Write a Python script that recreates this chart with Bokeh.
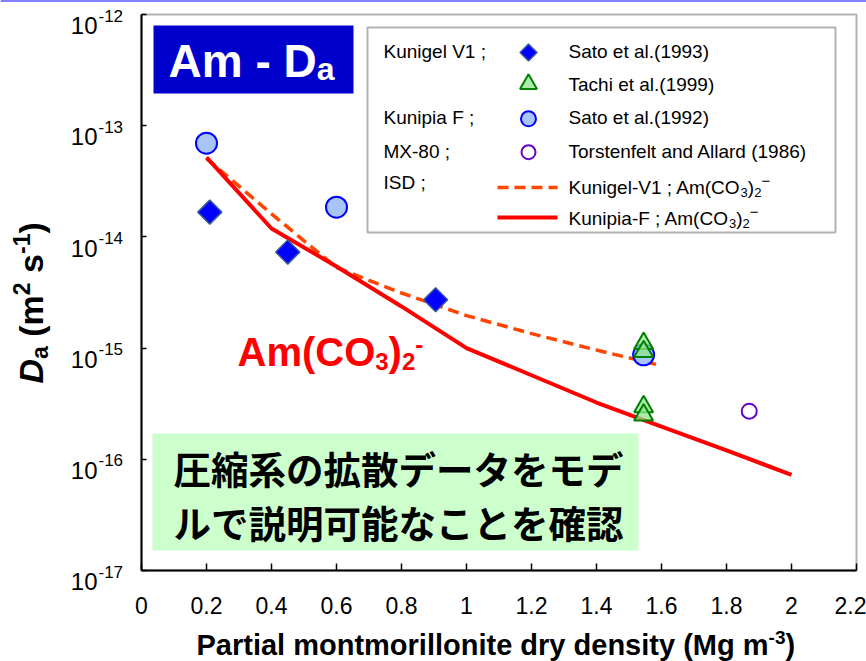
import numpy as np
from bokeh.plotting import figure
from bokeh.models import FixedTicker, Label, BoxAnnotation, CustomJSTickFormatter, Span
from bokeh.embed import file_html
from bokeh.resources import INLINE

# ---------------- data ----------------
x_ticks = [0, 0.2, 0.4, 0.6, 0.8, 1.0, 1.2, 1.4, 1.6, 1.8, 2.0, 2.2]
y_ticks = [1e-17, 1e-16, 1e-15, 1e-14, 1e-13, 1e-12]

# Kunigel V1 ; Sato et al.(1993)
sato93_x = [0.21, 0.45, 0.905]
sato93_y = [1.67e-14, 7.3e-15, 2.72e-15]
# Kunigel V1 ; Tachi et al.(1999)
tachi_x = [1.545, 1.545, 1.545, 1.545]
tachi_y = [1.10e-15, 9.3e-16, 2.97e-16, 2.50e-16]
# Kunipia F ; Sato et al.(1992)
sato92_x = [0.2, 0.6, 1.545]
sato92_y = [6.96e-14, 1.85e-14, 8.7e-16]
# MX-80 ; Torstenfelt and Allard (1986)
mx80_x = [1.87]
mx80_y = [2.71e-16]
# ISD model, Kunigel-V1 ; Am(CO3)2-
kv1_x = [0.2, 0.4, 0.6, 0.8, 1.0, 1.2, 1.4, 1.6]
kv1_y = [5.07e-14, 1.61e-14, 5.3e-15, 3.13e-15, 1.96e-15, 1.35e-15, 9.6e-16, 6.95e-16]
# ISD model, Kunipia-F ; Am(CO3)2-
kf_x = [0.2, 0.4, 0.6, 0.8, 1.0, 1.2, 1.4, 1.6, 1.8, 2.0]
kf_y = [5.18e-14, 1.19e-14, 5.42e-15, 2.37e-15, 1.0e-15, 5.7e-16, 3.24e-16, 1.97e-16, 1.2e-16, 7.26e-17]

legend_groups = ["Kunigel V1 ;", "", "Kunipia F ;", "MX-80 ;", "ISD ;"]
legend_labels = ["Sato et al.(1993)", "Tachi et al.(1999)", "Sato et al.(1992)",
                 "Torstenfelt and Allard (1986)"]

# ---------------- layout helpers ----------------
W, H = 866, 661
FL, FT, FW, FH = 141, 14, 715, 556      # plot area in page pixels
X0, X1 = 0.0, 2.2
E_TOP, E_BOT = -12, -17
FONT = "Liberation Sans"
CJK = "Noto Sans CJK JP"
MID = 0.35          # em distance from baseline to text middle


def dx(ix):
    return X0 + (ix - FL) / FW * (X1 - X0)


def dy(iy):
    return 10 ** (E_TOP - (iy - FT) / FH * (E_TOP - E_BOT))


REG = {' ': .278, '(': .333, ')': .333, '-': .333, '.': .278, ';': .278, 'A': .667,
       'C': .722, 'D': .722, 'F': .611, 'K': .667, 'M': .833, 'O': .778, 'V': .667,
       'a': .556, 'e': .556, 'g': .556, 'i': .222, 'l': .222, 'm': .833, 'n': .556,
       'p': .556, 'u': .556, '−': .584}
BLD = {' ': .278, '(': .333, ')': .333, '-': .333, 'A': .722, 'C': .722, 'D': .722,
       'M': .833, 'O': .778, 'P': .667, 'a': .556, 'd': .611, 'e': .556, 'g': .611,
       'i': .278, 'l': .278, 'm': .889, 'n': .611, 'o': .611, 'r': .389, 's': .556,
       't': .333, 'y': .556}


def tw(s, size, bold=False):
    t = BLD if bold else REG
    return sum(t.get(c, .556) for c in s) * size


def style(bold, italic):
    if bold and italic:
        return "bold italic"
    return "bold" if bold else ("italic" if italic else "normal")


# the frame covers the whole canvas; the axes are pinned to the plot-area edges
p = figure(width=W, height=H, x_range=(dx(0), dx(W)), y_range=(dy(H), dy(0)),
           y_axis_type="log", output_backend="svg", toolbar_location=None,
           min_border=0, background_fill_color="white", border_fill_color="white")
p.outline_line_color = None


def lab(ix, iy, text, size, color="black", bold=False, italic=False, align="left",
        rotated=False, font=FONT, yv=None, yoff=0, mid=MID):
    """ix, iy: start / baseline position in page pixels."""
    if rotated:
        x, y, angle = dx(ix - mid * size), dy(iy), np.pi / 2
    else:
        x, angle = dx(ix), 0.0
        y = dy(iy - mid * size) if yv is None else yv
        if yv is not None:
            yoff = yoff + mid * size
    p.add_layout(Label(x=x, y=y, y_offset=yoff, angle=angle,
                       text=text, text_font=font, text_font_size=f"{size}px",
                       text_font_style=style(bold, italic), text_color=color,
                       text_align=align, text_baseline="middle"))


def run(ix, iy, parts, color="black", rotated=False):
    for text, size, off, bold, italic in parts:
        lead = len(text) - len(text.lstrip())
        adv0 = tw(text[:lead], size, bold)
        if rotated:
            lab(ix + off, iy - adv0, text.strip(), size, color=color, bold=bold,
                italic=italic, rotated=True)
            iy -= tw(text, size, bold)
        else:
            lab(ix + adv0, iy + off, text.strip(), size, color=color, bold=bold, italic=italic)
            ix += tw(text, size, bold)


# slide rule at the top edge
p.add_layout(Span(location=dy(0), dimension="width", line_color="#0000FF", line_width=2))

# ---------------- axes ----------------
p.xgrid.visible = False
p.ygrid.visible = False

p.xaxis.fixed_location = 10 ** E_BOT
p.yaxis.fixed_location = X0
p.xaxis.bounds = (X0, X1)
p.yaxis.bounds = (10 ** E_BOT, 10 ** E_TOP)
p.xaxis.ticker = FixedTicker(ticks=x_ticks)
p.xaxis.formatter = CustomJSTickFormatter(code="return String(Math.round(tick*10)/10);")
p.yaxis.ticker = FixedTicker(ticks=y_ticks)
p.yaxis.formatter = CustomJSTickFormatter(code="return '';")
for ax in (p.xaxis, p.yaxis):
    ax.axis_line_width = 2
    ax.axis_line_color = "black"
    ax.major_tick_line_color = "black"
    ax.major_tick_line_width = 1.5
    ax.major_tick_out = 0
    ax.minor_tick_line_color = None
p.xaxis.major_tick_in = 7
p.yaxis.major_tick_in = 5
p.xaxis.major_label_text_font = FONT
p.xaxis.major_label_text_font_size = "23px"
p.xaxis.major_label_text_color = "black"
p.xaxis.major_label_standoff = 26

# plot-area outline
p.add_layout(BoxAnnotation(left=X0, right=X1, top=10 ** E_TOP, bottom=10 ** E_BOT,
                           fill_color=None, line_color="black", line_width=2))

# y tick labels 10^n
for v in y_ticks:
    lab(97, 0, "10", 24, align="right", yv=v, yoff=-19.5)
    lab(98, 0, str(int(round(np.log10(v)))), 17, yv=v, yoff=-7)

# axis titles
run(196, 655, [("Partial montmorillonite dry density (Mg m", 29, 0, True, False),
               ("-3", 19, -11, True, False), (")", 29, 0, True, False)])
run(42, 383, [("D", 34, 0, True, True), ("a", 23, 6, True, False),
              (" (m", 34, 0, True, False), ("2", 23, -13, True, False),
              (" s", 34, 0, True, False), ("-1", 23, -13, True, False),
              (")", 34, 0, True, False)], rotated=True)

# ---------------- boxes ----------------
p.add_layout(BoxAnnotation(left=dx(153), right=dx(353), top=dy(25), bottom=dy(93),
                           fill_color="#0000CC", fill_alpha=1, line_color=None, level="underlay"))
p.add_layout(BoxAnnotation(left=dx(367), right=dx(835), top=dy(27), bottom=dy(232),
                           fill_color="white", fill_alpha=1, line_color="black", line_width=2,
                           level="underlay"))
p.add_layout(BoxAnnotation(left=dx(152), right=dx(638), top=dy(433), bottom=dy(550),
                           fill_color="#CCFFCC", fill_alpha=1, line_color=None, level="underlay"))

# ---------------- data glyphs ----------------
DASH = "11 6"
p.line(kv1_x, kv1_y, line_color="#FF4500", line_width=3.5, line_dash=DASH)
p.line(kf_x, kf_y, line_color="#FF0000", line_width=4)

dia = dict(marker="square", angle=np.pi / 4, fill_color="#0000FF", line_color="#3D5A99", line_width=1.5)
cir = dict(marker="circle", fill_color="#A9C5F7", line_color="#0000FF", line_width=2)
tri = dict(marker="triangle", fill_color="#8FE68F", fill_alpha=0.75, line_color="#008000", line_width=2)
opn = dict(marker="circle", fill_color=None, line_color="#6600CC", line_width=2)

p.scatter(sato93_x, sato93_y, size=17, **dia)
p.scatter(sato92_x, sato92_y, size=21, **cir)
p.scatter(tachi_x, tachi_y, size=19, **tri)
p.scatter(mx80_x, mx80_y, size=15, **opn)

# ---------------- legend ----------------
LX_SW, LX_LAB, LX_GRP = 528, 568, 383
base = [57.3, 90.7, 124, 157.3]
mark_y = [52, 83.5, 118.3, 151.7]
p.scatter([dx(LX_SW)], [dy(mark_y[0])], size=12, **dia)
p.scatter([dx(LX_SW)], [dy(mark_y[1])], size=17, **tri)
p.scatter([dx(LX_SW)], [dy(mark_y[2])], size=15, **cir)
p.scatter([dx(LX_SW)], [dy(mark_y[3])], size=14, **opn)
p.line([dx(497), dx(557)], [dy(187), dy(187)], line_color="#FF4500", line_width=3.5, line_dash=DASH)
p.line([dx(497), dx(557)], [dy(217), dy(217)], line_color="#FF0000", line_width=4)

for g, b in zip(legend_groups[:4], base):
    if g:
        lab(LX_GRP, b, g, 19)
lab(LX_GRP, 188.3, legend_groups[4], 19)
for t, b in zip(legend_labels, base):
    lab(LX_LAB, b, t, 19)
for name, b in (("Kunigel-V1 ; Am(CO", 194), ("Kunipia-F ; Am(CO", 225)):
    run(LX_LAB, b, [(name, 19, 0, False, False), ("3", 13, 3, False, False),
                    (")", 19, 0, False, False), ("2", 13, 3, False, False),
                    ("−", 15, -8, False, False)])

# ---------------- annotations ----------------
run(168, 77, [("Am - D", 46, 0, True, False), ("a", 32, 3, True, False)], color="white")
run(237, 365, [("Am(CO", 40, 0, True, False), ("3", 24, 4, True, False),
               (")", 40, 0, True, False), ("2", 24, 4, True, False),
               ("-", 24, -13, True, False)], color="#FF0000")
lab(173, 467, "圧縮系の拡散データをモデ", 37.5, bold=True, font=CJK, mid=0)
lab(173, 520.5, "ルで説明可能なことを確認", 37.5, bold=True, font=CJK, mid=0)

open("out.html", "w").write(file_html(p, INLINE))
